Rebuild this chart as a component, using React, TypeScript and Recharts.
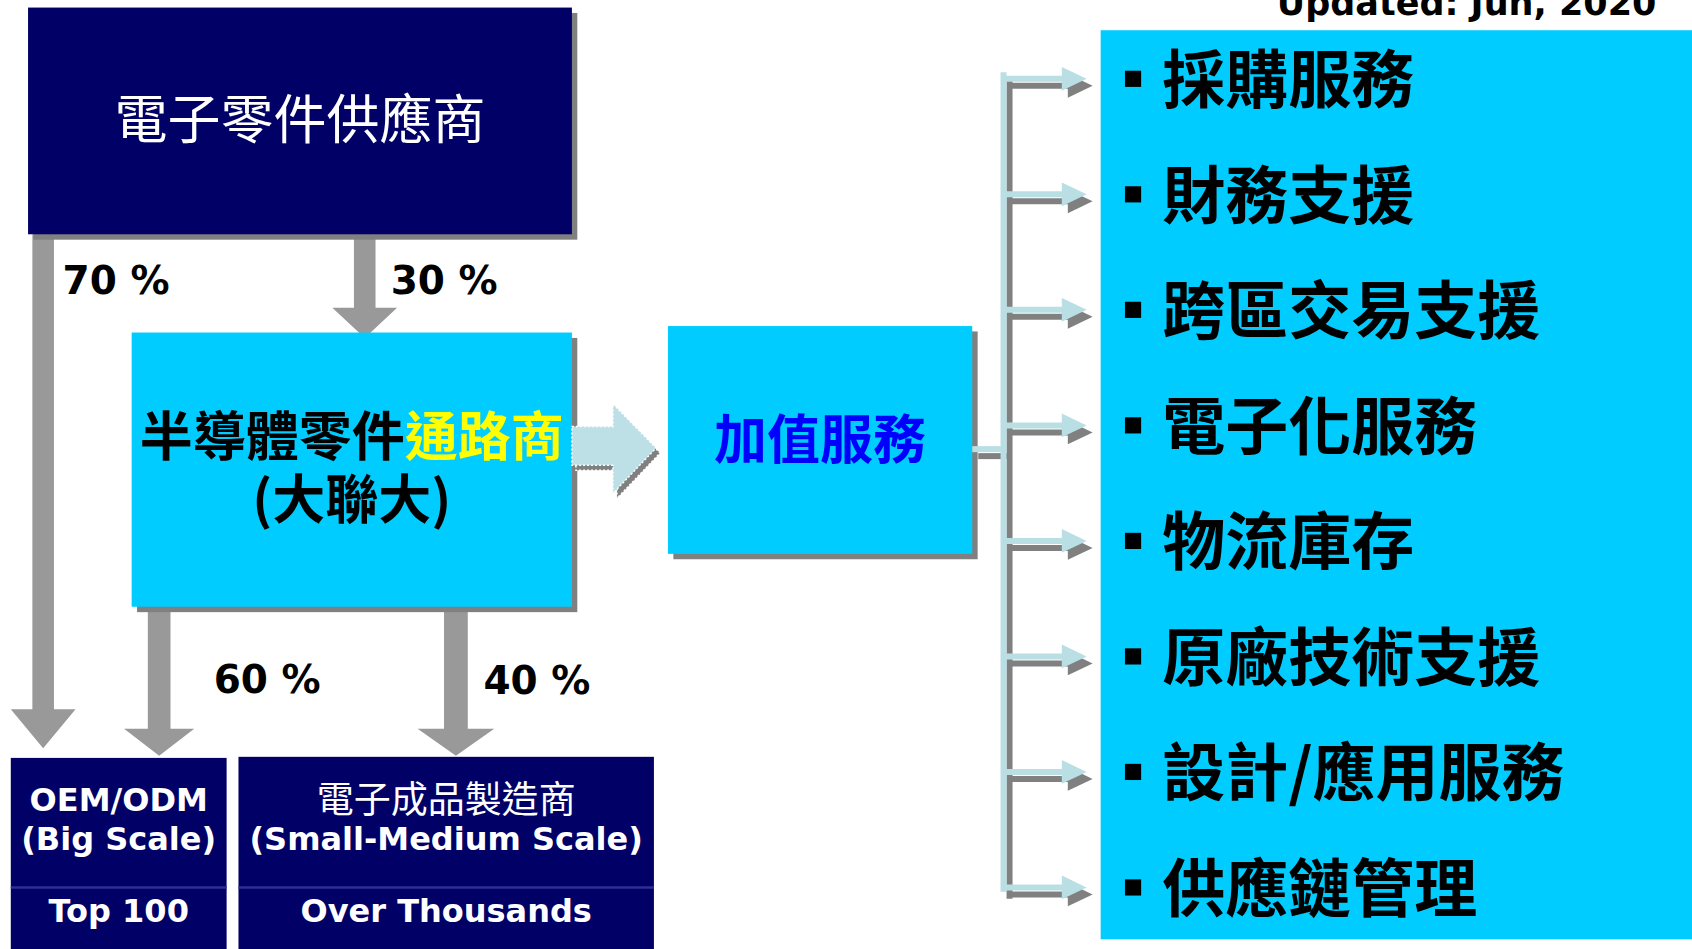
import { ComposedChart, XAxis, YAxis, Scatter, ReferenceArea, ReferenceDot } from 'recharts';

const W = 1692;
const H = 949;
// the diagram is laid out on a 1568 x 879 grid; the hidden axes stretch it onto the canvas
const GRID_W = 1568;
const GRID_H = 879;
const kx = W / GRID_W;
const ky = H / GRID_H;

const NAVY = '#000066';
const CYAN = '#00CCFF';
const SHADOW = '#808080';
const FLOW = '#999999';
const LINK = '#B9DFE4';
const CJK = "'Noto Sans CJK TC', 'Noto Sans CJK SC', sans-serif";
const LATIN = "'DejaVu Sans', Verdana, sans-serif";

// texts and values
const updatedNote = 'Updated: Jun, 2020';
const supplierName = '電子零件供應商';
const distributorName = '半導體零件';
const distributorTag = '通路商';
const distributorGroup = '(大聯大)';
const valueAddedName = '加值服務';
const shareLabels = ['70 %', '30 %', '60 %', '40 %'];
const customerNames = ['OEM/ODM', '電子成品製造商'];
const customerScales = ['(Big Scale)', '(Small-Medium Scale)'];
const customerCounts = ['Top 100', 'Over Thousands'];
const services = ['採購服務', '財務支援', '跨區交易支援', '電子化服務', '物流庫存', '原廠技術支援', '設計/應用服務', '供應鏈管理'];

// layout (grid units)
type Box = { x1: number; x2: number; y1: number; y2: number };
type Arrow = Box & { shaft: number; head: number };
const supplierBox: Box = { x1: 26, x2: 530, y1: 7, y2: 217 };
const distributorBox: Box = { x1: 122, x2: 530, y1: 308, y2: 562 };
const valueBox: Box = { x1: 619, x2: 901, y1: 302, y2: 513 };
const serviceBox: Box = { x1: 1020, x2: 1568, y1: 28, y2: 870 };
const customerBoxes: Box[] = [
  { x1: 10, x2: 210, y1: 702, y2: 879 },
  { x1: 221, x2: 606, y1: 701, y2: 879 },
];
const flowArrows: Arrow[] = [
  { x1: 10, x2: 70, y1: 217, y2: 693, shaft: 20, head: 36 },
  { x1: 308, x2: 368, y1: 220, y2: 313, shaft: 20, head: 28 },
  { x1: 115, x2: 180, y1: 562, y2: 700, shaft: 21, head: 25 },
  { x1: 387, x2: 458, y1: 562, y2: 700, shaft: 22, head: 25 },
];
const shareSpots = [[58, 272], [362, 272], [198, 642], [448, 643]];
const pushArrow: Box = { x1: 530, x2: 608, y1: 374, y2: 457 };
const linkArea: Box = { x1: 901, x2: 1012, y1: 60, y2: 840 };
const rowY = (i: number) => 73 + i * 107;

const pts = (list: number[][]) => list.map((q) => q.join(',')).join(' ');

const boxShape = (fill: string, shadow: boolean) => (p: any) => {
  const off = 5 * kx;
  return (
    <g>
      {shadow && <rect x={p.x + off} y={p.y + off} width={p.width} height={p.height} fill={SHADOW} />}
      <rect x={p.x} y={p.y} width={p.width} height={p.height} fill={fill} />
    </g>
  );
};

const downArrow = (a: Arrow) => (p: any) => {
  const cx = p.x + p.width / 2;
  const hw = (a.shaft * kx) / 2;
  const bottom = p.y + p.height;
  const headTop = bottom - a.head * ky;
  return (
    <polygon
      points={pts([
        [cx - hw, p.y], [cx + hw, p.y], [cx + hw, headTop], [p.x + p.width, headTop],
        [cx, bottom], [p.x, headTop], [cx - hw, headTop],
      ])}
      fill={FLOW}
    />
  );
};

const pushShape = (p: any) => {
  const X = (u: number) => p.x + (u - pushArrow.x1) * kx;
  const Y = (v: number) => p.y + (v - pushArrow.y1) * ky;
  const shape = [[530, 395], [568, 395], [568, 374], [608, 415], [568, 457], [568, 431], [530, 431]];
  const main = shape.map(([u, v]) => [X(u), Y(v)]);
  const shade = main.map(([a, b]) => [a + 4, b + 5]);
  return (
    <g>
      <polygon points={pts(shade)} fill={SHADOW} stroke="#fff" strokeWidth={1.5} strokeDasharray="2 2" />
      <polygon points={pts(main)} fill="#BCE0E6" stroke="#fff" strokeWidth={1.5} strokeDasharray="2 2" />
    </g>
  );
};

const linkShape = (p: any) => {
  const X = (u: number) => p.x + (u - linkArea.x1) * kx;
  const Y = (v: number) => p.y + (v - linkArea.y1) * ky;
  const draw = (dx: number, dy: number, color: string) => (
    <g>
      <line x1={X(901) + dx} y1={Y(416) + dy} x2={X(930) + dx} y2={Y(416) + dy} stroke={color} strokeWidth={6} />
      <line x1={X(930) + dx} y1={Y(67) + dy} x2={X(930) + dx} y2={Y(826) + dy} stroke={color} strokeWidth={6} />
      {services.map((s, i) => {
        const y = Y(rowY(i)) + dy;
        return (
          <g key={s}>
            <line x1={X(930) + dx} y1={y} x2={X(986) + dx} y2={y} stroke={color} strokeWidth={6} />
            <polygon points={pts([[X(984) + dx, y - 11 * ky], [X(1007) + dx, y], [X(984) + dx, y + 11 * ky]])} fill={color} />
          </g>
        );
      })}
    </g>
  );
  return (
    <g>
      {draw(6, 7, SHADOW)}
      {draw(0, 0, LINK)}
    </g>
  );
};

const serviceShape = (p: any) => {
  const b = 15 * kx;
  return (
    <g>
      <rect x={p.cx - b / 2} y={p.cy - b / 2} width={b} height={b} fill="#000" />
      <text x={p.cx + 27 * kx} y={p.cy - 4 * ky} dominantBaseline="central" fontFamily={CJK} fontWeight={700} fontSize={63} fill="#000">
        {p.payload.label}
      </text>
    </g>
  );
};

const area = (key: string, b: Box, shape: any) => (
  <ReferenceArea key={key} x1={b.x1} x2={b.x2} y1={b.y1} y2={b.y2} ifOverflow="visible" shape={shape} />
);

const textAt = (key: string, x: number, y: number, draw: (cx: number, cy: number) => any) => (
  <ReferenceDot key={key} x={x} y={y} r={0} ifOverflow="visible" shape={(p: any) => draw(p.cx, p.cy)} />
);

const serviceRows = services.map((label, i) => ({ x: 1050, y: rowY(i), label }));

export default function App() {
  return (
    <div style={{ position: 'absolute', left: 0, top: 0, width: W, height: H, background: '#fff' }}>
      <ComposedChart width={W} height={H} margin={{ top: 0, right: 0, bottom: 0, left: 0 }}>
        <XAxis type="number" dataKey="x" domain={[0, GRID_W]} hide allowDataOverflow />
        <YAxis type="number" dataKey="y" domain={[0, GRID_H]} reversed hide allowDataOverflow />

        {flowArrows.map((a, i) => area(`flow${i}`, a, downArrow(a)))}
        {area('supplier', supplierBox, boxShape(NAVY, true))}
        {area('distributor', distributorBox, boxShape(CYAN, true))}
        {area('value', valueBox, boxShape(CYAN, true))}
        {area('push', pushArrow, pushShape)}
        {area('link', linkArea, linkShape)}
        {area('services', serviceBox, boxShape(CYAN, false))}
        {customerBoxes.map((b, i) =>
          area(`cust${i}`, b, (p: any) => (
            <g>
              <rect x={p.x} y={p.y} width={p.width} height={p.height} fill={NAVY} />
              <line x1={p.x} x2={p.x + p.width} y1={p.y + (822 - b.y1) * ky} y2={p.y + (822 - b.y1) * ky} stroke="#2E2E96" strokeWidth={2.5} />
            </g>
          )),
        )}

        {textAt('updated', 1535, 14, (x, y) => (
          <text x={x} y={y} textAnchor="end" fontFamily={LATIN} fontWeight={700} fontSize={35} fill="#000">{updatedNote}</text>
        ))}
        {textAt('supplierName', 278, 107, (x, y) => (
          <text x={x} y={y} textAnchor="middle" dominantBaseline="central" fontFamily={CJK} fontWeight={400} fontSize={53} fill="#fff">{supplierName}</text>
        ))}
        {textAt('distName', 326, 401, (x, y) => (
          <text x={x} y={y} textAnchor="middle" dominantBaseline="central" fontFamily={CJK} fontWeight={700} fontSize={53} fill="#000">
            {distributorName}
            <tspan fill="#FFFF00">{distributorTag}</tspan>
          </text>
        ))}
        {textAt('distGroup', 326, 459, (x, y) => (
          <text x={x} y={y} textAnchor="middle" dominantBaseline="central" fontFamily={CJK} fontWeight={700} fontSize={53} fill="#000">{distributorGroup}</text>
        ))}
        {textAt('valueName', 760, 404, (x, y) => (
          <text x={x} y={y} textAnchor="middle" dominantBaseline="central" fontFamily={CJK} fontWeight={700} fontSize={53} fill="#0000FF">{valueAddedName}</text>
        ))}
        {shareLabels.map((s, i) =>
          textAt(`share${i}`, shareSpots[i][0], shareSpots[i][1], (x, y) => (
            <text x={x} y={y} fontFamily={LATIN} fontWeight={700} fontSize={39} fill="#000">{s}</text>
          )),
        )}
        {customerBoxes.map((b, i) => {
          const cx = (b.x1 + b.x2) / 2;
          const cjk = /[\u4e00-\u9fff]/.test(customerNames[i]);
          return [
            textAt(`cn${i}`, cx, cjk ? 738 : 741, (x, y) => (
              <text x={x} y={y} textAnchor="middle" dominantBaseline="central" fontFamily={cjk ? CJK : LATIN} fontWeight={cjk ? 400 : 700} fontSize={cjk ? 37 : 32} fill="#fff">{customerNames[i]}</text>
            )),
            textAt(`cs${i}`, cx, 777, (x, y) => (
              <text x={x} y={y} textAnchor="middle" dominantBaseline="central" fontFamily={LATIN} fontWeight={700} fontSize={32} fill="#fff">{customerScales[i]}</text>
            )),
            textAt(`cc${i}`, cx, 844, (x, y) => (
              <text x={x} y={y} textAnchor="middle" dominantBaseline="central" fontFamily={LATIN} fontWeight={700} fontSize={32} fill="#fff">{customerCounts[i]}</text>
            )),
          ];
        })}

        <Scatter data={serviceRows} dataKey="y" shape={serviceShape} isAnimationActive={false} />
      </ComposedChart>
    </div>
  );
}
